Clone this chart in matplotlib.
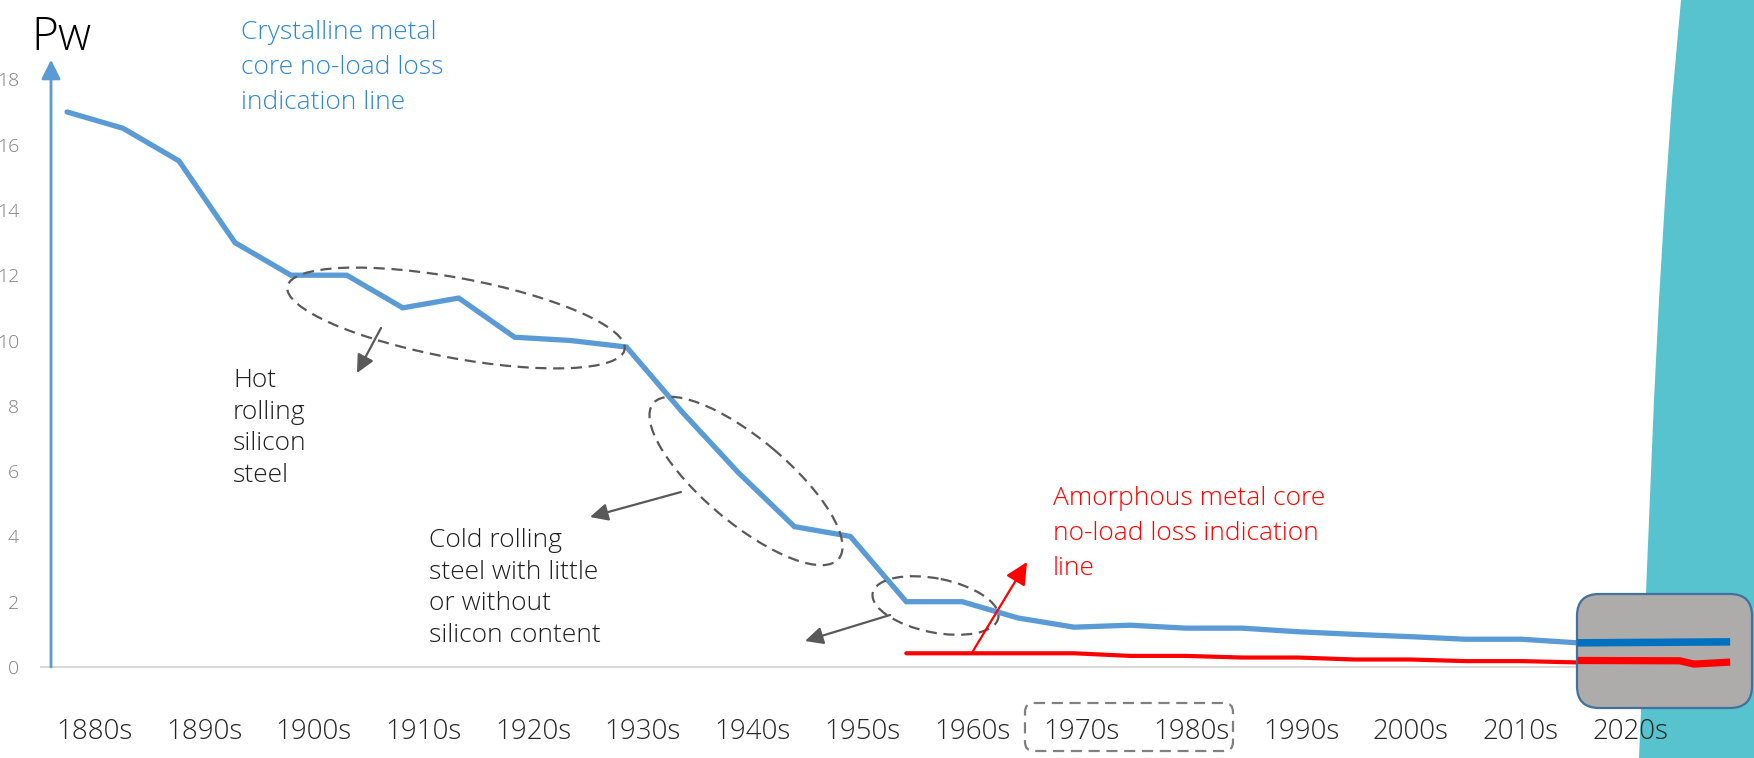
import numpy as np
import matplotlib
matplotlib.use("Agg")
import matplotlib.pyplot as plt
import matplotlib.transforms as mtransforms
from matplotlib.patches import Ellipse, FancyBboxPatch, FancyArrowPatch, Polygon

plt.rcParams['font.family'] = ['Open Sans', 'DejaVu Sans']

# decade labels on the x axis
decades = ['1880s', '1890s', '1900s', '1910s', '1920s', '1930s', '1940s', '1950s',
           '1960s', '1970s', '1980s', '1990s', '2000s', '2010s', '2020s']
y_ticks = [0, 2, 4, 6, 8, 10, 12, 14, 16, 18]

# crystalline core no-load loss, one reading per half decade from the 1880s
crystalline = [17.0, 16.5, 15.5, 13.0, 12.0, 12.0, 11.0, 11.3, 10.1, 10.0,
               9.8, 7.8, 5.95, 4.3, 4.0, 2.0, 2.0, 1.5, 1.22, 1.28,
               1.19, 1.19, 1.08, 1.0, 0.93, 0.85, 0.85, 0.74]
# amorphous core no-load loss, starting from the mid 1950s
amorphous = [0.42, 0.42, 0.42, 0.42, 0.34, 0.34, 0.29, 0.29, 0.23, 0.23,
             0.18, 0.18, 0.14]
amorphous_start = 15

# highlighted present-day segment
now_crystalline = [0.74, 0.77]
now_amorphous = [0.20, 0.19, 0.09, 0.15]

W, H = 1754, 758
fig = plt.figure(figsize=(W / 100, H / 100), dpi=100)
fig.patch.set_facecolor('white')

# pixel coordinates measured from the top-left corner of the figure
px = mtransforms.Affine2D().scale(1 / W, -1 / H).translate(0, 1) + fig.transFigure

x0, y0 = 51, 667          # axis origin in pixels
dec_px, unit_px = 109.7, 32.65
first_px = 94.5           # centre of the first decade label
ax = fig.add_axes([x0 / W, (H - y0) / H, (W - x0) / W, y0 / H])
ax.set_xlim((x0 - first_px) / dec_px, (W - first_px) / dec_px)
ax.set_ylim(0, y0 / unit_px)
ax.patch.set_visible(False)
for s in ax.spines.values():
    s.set_visible(False)

# teal band on the right
edge = [(1681, 0), (1672, 100), (1665, 200), (1659, 300), (1654, 400),
        (1649, 520), (1644, 640), (1639, 758)]
band = Polygon(edge + [(W, 758), (W, 0)], closed=True, transform=px,
               facecolor='#56C3CE', edgecolor='none', zorder=-5)
fig.add_artist(band)

# ticks
ax.set_xticks(range(len(decades)))
ax.set_xticklabels(decades, fontsize=20, color='#262626', fontweight='light')
ax.set_yticks(y_ticks)
ax.set_yticklabels([str(v) for v in y_ticks], fontsize=14, color='#808080',
                   fontweight='light')
ax.tick_params(axis='x', length=0, pad=37)
ax.tick_params(axis='y', length=0, pad=23)
for lab in ax.get_yticklabels():
    lab.set_horizontalalignment('right')

# baseline and the vertical axis arrow
ax.plot([-0.49, 13.52], [0, 0], color='#D9D9D9', lw=1.5, clip_on=False, zorder=1)
ax.annotate('', xy=(0, 18.6), xycoords=('axes fraction', 'data'),
            xytext=(0, 0), textcoords=('axes fraction', 'data'),
            arrowprops=dict(arrowstyle='-|>,head_length=0.4,head_width=0.2',
                            color='#5B9BD5', lw=2, mutation_scale=29,
                            shrinkA=0, shrinkB=0), zorder=2)

# main series
xs = -0.25 + 0.51 * np.arange(len(crystalline))
ax.plot(xs, crystalline, color='#5B9BD5', lw=3.8, solid_joinstyle='miter',
        solid_capstyle='round', zorder=2, clip_on=False)
xa = xs[amorphous_start:amorphous_start + len(amorphous)]
ax.plot(xa, amorphous, color='#FF0000', lw=3.0, solid_capstyle='round',
        zorder=2, clip_on=False)

# present-day box
box = FancyBboxPatch((1577, 594), 175, 114,
                     boxstyle='round,pad=0,rounding_size=22', transform=px,
                     facecolor='#AEABAB', edgecolor='#41719C', lw=1.6,
                     zorder=3, clip_on=False)
ax.add_patch(box)
ax.plot([13.52, 14.91], now_crystalline, color='#0070C0', lw=5.4,
        solid_capstyle='butt', zorder=4, clip_on=False)
ax.plot([13.52, 14.45, 14.58, 14.91], now_amorphous, color='#FF0000', lw=5.2,
        solid_capstyle='butt', zorder=4, clip_on=False)

# dashed outlines
dash = (0, (5, 3))
for c, w, h, a in [((456, 318), 343, 80, 10.6),
                   ((746, 481), 242, 84, 40),
                   ((935.5, 605.5), 128, 54, 11.3)]:
    ax.add_patch(Ellipse(c, w, h, angle=a, transform=px, fill=False,
                         edgecolor='#595959', lw=1.6, ls=dash,
                         zorder=5, clip_on=False))
ax.add_patch(FancyBboxPatch((1025, 703), 208, 48,
                            boxstyle='round,pad=0,rounding_size=9', transform=px,
                            fill=False, edgecolor='#808080', lw=1.6, ls=dash,
                            zorder=5, clip_on=False))

# pointer arrows
for a, b, col, ms in [((381, 328), (357, 373), '#595959', 24),
                      ((681, 492), (590, 517), '#595959', 24),
                      ((890, 615), (805, 641), '#595959', 24),
                      ((973, 651), (1027, 562), '#FF0000', 30)]:
    ax.add_patch(FancyArrowPatch(a, b, transform=px, color=col, lw=1.6,
                                 arrowstyle='-|>,head_length=0.45,head_width=0.22',
                                 mutation_scale=ms, shrinkA=0, shrinkB=0,
                                 zorder=5, clip_on=False))


def lines(x, base, step, rows, color, size=19):
    for i, row in enumerate(rows):
        fig.text(x, base + i * step, row, transform=px, color=color,
                 fontsize=size, fontweight='light', va='baseline', ha='left')


fig.text(31, 50, 'Pw', transform=px, fontsize=33, color='black',
         fontweight='light', va='baseline')
lines(241, 39, 35, ['Crystalline metal', 'core no-load loss', 'indication line'],
      '#2F87D0')
lines(233, 387, 31.7, ['Hot', 'rolling', 'silicon', 'steel'], '#1F1F1F')
lines(429, 547, 31.7, ['Cold rolling', 'steel with little', 'or without',
                       'silicon content'], '#1F1F1F')
lines(1053, 505, 35, ['Amorphous metal core', 'no-load loss indication', 'line'],
      '#FF0000')

fig.savefig('out.png', dpi=100)
